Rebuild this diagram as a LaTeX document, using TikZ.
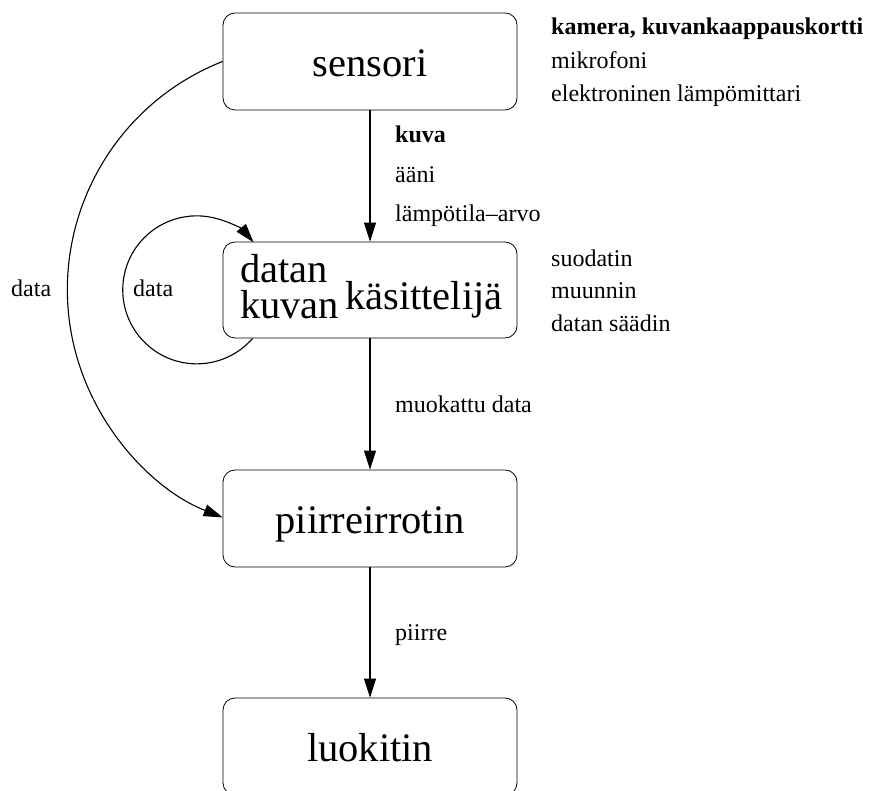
\documentclass[tikz,border=0pt]{standalone}
\usepackage{fontspec}
\setmainfont{Liberation Serif}
\usetikzlibrary{arrows.meta}
\begin{document}
\begin{tikzpicture}[x=1pt,y=1pt,
  box/.style={draw, line width=0.8pt, rounded corners=12pt, minimum width=294pt, minimum height=97pt, inner sep=0pt, font=\fontsize{40.5}{40.5}\selectfont, text height=31pt, text depth=0pt},
  arr/.style={line width=1.1pt, -{Triangle[length=19pt,width=12pt]}},
  lbl/.style={anchor=base west, inner sep=0pt, font=\fontsize{24}{24}\selectfont},
  bigtxt/.style={anchor=base west, inner sep=0pt, font=\fontsize{40.5}{40.5}\selectfont}]
\useasboundingbox (0,0) rectangle (872,791);
\node[box] (s) at (370,729.5) {sensori};
\node[box, minimum height=96pt] (dk) at (370,501) {};
\node[box] (p) at (370,272.5) {piirreirrotin};
\node[box] (l) at (370,44.5) {luokitin};
\node[bigtxt] (t1) at (240,508) {datan};
\node[bigtxt] (t2) at (240,472) {kuvan};
\node[bigtxt] (t3) at (345,481) {käsittelijä};
\draw[arr] (s) -- (dk);
\draw[arr] (dk) -- (p);
\draw[arr] (p) -- (l);
\draw[arr] (s.west) arc[start angle=111.5, end angle=248.5, radius=245];
\draw[arr] ([xshift=30pt]dk.south west) arc[start angle=-41, end angle=-320, radius=74];
\node[lbl, font=\fontsize{24}{24}\selectfont\bfseries] (a1) at (551,756) {kamera, kuvankaappauskortti};
\node[lbl] (a2) at (551,722) {mikrofoni};
\node[lbl] (a3) at (551,689) {elektroninen lämpömittari};
\node[lbl, font=\fontsize{24}{24}\selectfont\bfseries] (b1) at (395,648) {kuva};
\node[lbl] (b2) at (395,608) {ääni};
\node[lbl] (b3) at (395,569) {lämpötila–arvo};
\node[lbl] (c1) at (551,524) {suodatin};
\node[lbl] (c2) at (551,492) {muunnin};
\node[lbl] (c3) at (551,459) {datan säädin};
\node[lbl] (d1) at (395,378) {muokattu data};
\node[lbl] (e1) at (395,150) {piirre};
\node[lbl] (f1) at (11,494) {data};
\node[lbl] (f2) at (133,494) {data};
\end{tikzpicture}
\end{document}
